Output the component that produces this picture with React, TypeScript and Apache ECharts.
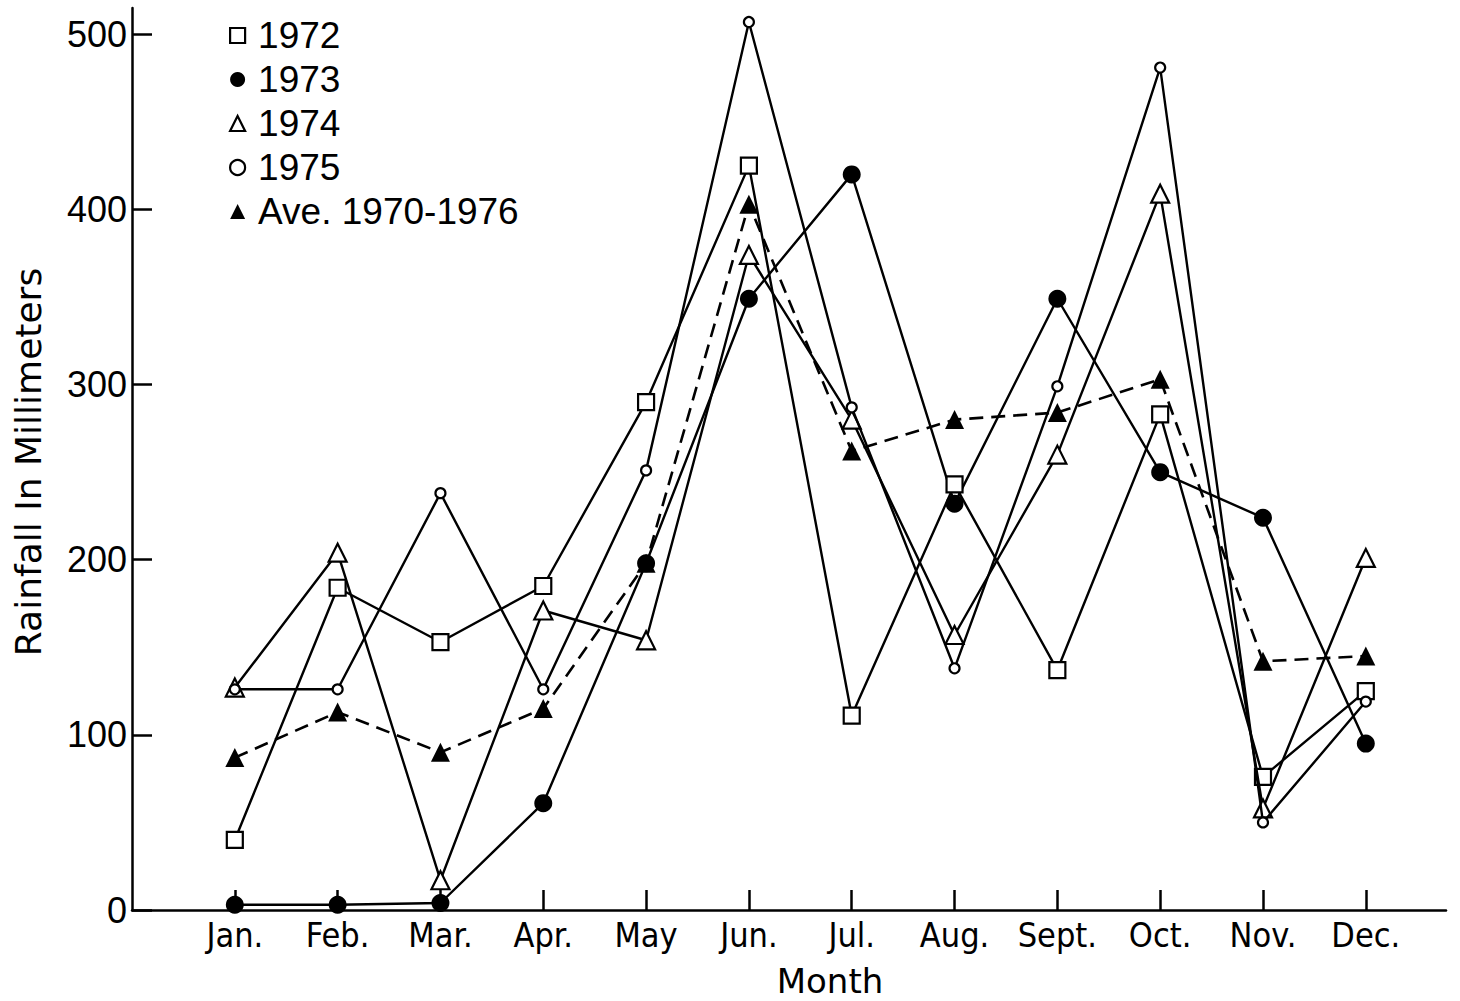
import React, { useEffect, useRef } from "react";
import * as echarts from "echarts";

const months = ["Jan.", "Feb.", "Mar.", "Apr.", "May", "Jun.", "Jul.", "Aug.", "Sept.", "Oct.", "Nov.", "Dec."];
const monthIndex = [1, 2, 3, 4, 5, 6, 7, 8, 9, 10, 11, 12];
const yTicks = [0, 100, 200, 300, 400, 500];

const r1972 = [40, 184, 153, 185, 290, 425, 111, 243, 137, 283, 76, 125];
const r1973 = [3, 3, 4, 61, 198, 349, 420, 232, 349, 250, 224, 95];
const r1974 = [127, 204, 17, 171, 154, 374, 280, 157, 260, 409, 58, 201];
const r1975 = [126, 126, 238, 126, 251, 507, 287, 138, 299, 481, 50, 119];
const rAve = [87, 113, 90, 115, 198, 403, 262, 280, 284, 303, 142, 145];

const seriesNames = ["1972", "1973", "1974", "1975", "Ave. 1970-1976"];

const pairs = (vals: number[]) => vals.map((v, i) => [monthIndex[i], v]);

export default function App() {
  const ref = useRef<HTMLDivElement>(null);
  useEffect(() => {
    if (!ref.current) return;
    const chart = echarts.init(ref.current, null, { renderer: "svg" });
    const black = "#000";
    const lineBase = { color: black, width: 2.4 };
    const openStyle = { color: "#fff", borderColor: black, borderWidth: 2.2 };
    const fillStyle = { color: black, borderColor: black, borderWidth: 0 };
    const option: any = {
      animation: false,
      backgroundColor: "#fff",
      grid: { left: 132, right: 14, top: 8, bottom: 91, containLabel: false },
      legend: {
        orient: "vertical",
        left: 224,
        top: 12,
        itemWidth: 15,
        itemHeight: 15,
        itemGap: 7,
        selectedMode: false,
        textStyle: {
          fontSize: 37,
          lineHeight: 36,
          color: black,
          fontFamily: "'Liberation Sans', Arial, sans-serif",
          padding: [0, 0, 0, 8],
        },
        data: [
          { name: seriesNames[0], icon: "rect", itemStyle: openStyle },
          { name: seriesNames[1], icon: "circle", itemStyle: fillStyle },
          { name: seriesNames[2], icon: "triangle", itemStyle: openStyle },
          { name: seriesNames[3], icon: "circle", itemStyle: openStyle },
          { name: seriesNames[4], icon: "triangle", itemStyle: fillStyle },
        ],
      },
      xAxis: {
        type: "value",
        min: 0,
        max: 12.78,
        interval: 1,
        splitLine: { show: false },
        axisLine: { show: true, lineStyle: { color: black, width: 2.5 } },
        axisTick: {
          show: true,
          inside: true,
          length: 20,
          lineStyle: { color: black, width: 2.5 },
          customValues: monthIndex,
        },
        axisLabel: {
          customValues: monthIndex,
          formatter: (v: number) => months[Math.round(v) - 1] ?? "",
          fontSize: 34,
          color: black,
          margin: 8,
          fontFamily: "'Liberation Sans Narrow', 'DejaVu Sans Condensed', 'DejaVu Sans', sans-serif",
        },
      },
      yAxis: {
        type: "value",
        min: 0,
        max: 515,
        interval: 100,
        splitLine: { show: false },
        axisLine: { show: true, lineStyle: { color: black, width: 2.5 } },
        axisTick: {
          show: true,
          inside: true,
          length: 20,
          lineStyle: { color: black, width: 2.5 },
          customValues: yTicks,
        },
        axisLabel: {
          customValues: yTicks,
          fontSize: 36,
          color: black,
          margin: 5,
          fontFamily: "'Liberation Sans', Arial, sans-serif",
        },
      },
      graphic: [
        {
          type: "text",
          x: 28,
          y: 462,
          rotation: Math.PI / 2,
          style: {
            text: "Rainfall In Millimeters",
            fontSize: 36,
            fontFamily: "'DejaVu Sans', sans-serif",
            fill: black,
            textAlign: "center",
            textVerticalAlign: "middle",
          },
        },
        {
          type: "text",
          x: 830,
          y: 981,
          style: {
            text: "Month",
            fontSize: 34,
            fontFamily: "'DejaVu Sans', sans-serif",
            fill: black,
            textAlign: "center",
            textVerticalAlign: "middle",
          },
        },
      ],
      series: [
        {
          name: seriesNames[4],
          type: "line",
          data: pairs(rAve),
          symbol: "triangle",
          symbolSize: 19,
          lineStyle: { color: black, width: 2.6, type: [14, 8] },
          itemStyle: fillStyle,
          z: 2,
        },
        {
          name: seriesNames[1],
          type: "line",
          data: pairs(r1973),
          symbol: "circle",
          symbolSize: 18,
          lineStyle: lineBase,
          itemStyle: fillStyle,
          z: 3,
        },
        {
          name: seriesNames[0],
          type: "line",
          data: pairs(r1972),
          symbol: "rect",
          symbolSize: 16,
          lineStyle: lineBase,
          itemStyle: openStyle,
          z: 4,
        },
        {
          name: seriesNames[2],
          type: "line",
          data: pairs(r1974),
          symbol: "triangle",
          symbolSize: 18,
          lineStyle: lineBase,
          itemStyle: openStyle,
          z: 5,
        },
        {
          name: seriesNames[3],
          type: "line",
          data: pairs(r1975),
          symbol: "circle",
          symbolSize: 10,
          lineStyle: lineBase,
          itemStyle: openStyle,
          z: 6,
        },
      ],
    };
    chart.setOption(option);
    return () => chart.dispose();
  }, []);
  return (
    <div
      ref={ref}
      style={{ position: "absolute", left: 0, top: 0, width: 1460, height: 1001, background: "#fff" }}
    />
  );
}
